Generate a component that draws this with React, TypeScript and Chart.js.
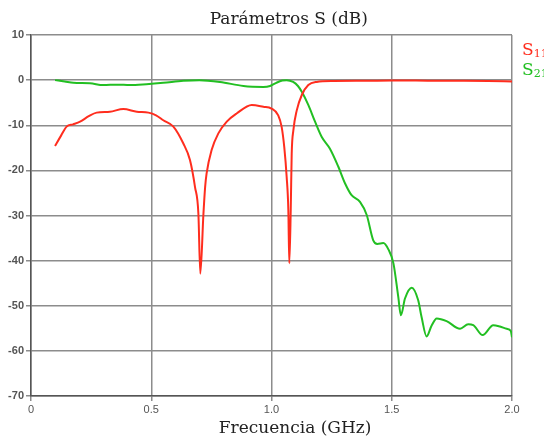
import React, { useEffect, useRef } from "react";
import { Chart, registerables } from "chart.js";

Chart.register(...registerables);

const s11Freq = [0.1, 0.125, 0.148, 0.175, 0.204, 0.24, 0.273, 0.328, 0.384, 0.44, 0.488, 0.52, 0.55, 0.592, 0.633, 0.661, 0.682, 0.696, 0.704, 0.717, 0.724, 0.73, 0.751, 0.779, 0.814, 0.855, 0.918, 0.966, 1.0, 1.028, 1.042, 1.053, 1.063, 1.07, 1.074, 1.08, 1.084, 1.091, 1.105, 1.126, 1.153, 1.188, 1.26, 1.4, 1.5, 1.6, 1.7, 1.8, 1.9, 2.0];
const s11Db = [-14.6, -12.3, -10.3, -9.8, -9.2, -8.0, -7.2, -7.0, -6.4, -7.0, -7.2, -7.8, -8.9, -10.3, -14.0, -17.7, -23.7, -29.6, -42.9, -29.6, -23.7, -20.7, -15.5, -11.8, -9.2, -7.4, -5.5, -5.9, -6.3, -7.8, -10.3, -14.8, -21.4, -28.8, -40.6, -28.8, -16.3, -11.1, -6.7, -3.3, -1.1, -0.4, -0.2, -0.15, -0.1, -0.1, -0.15, -0.15, -0.2, -0.3];

const s21Freq = [0.1, 0.14, 0.176, 0.245, 0.3, 0.36, 0.41, 0.48, 0.55, 0.633, 0.7, 0.786, 0.883, 0.966, 0.994, 1.02, 1.045, 1.063, 1.09, 1.11, 1.126, 1.153, 1.181, 1.209, 1.243, 1.278, 1.306, 1.333, 1.368, 1.396, 1.423, 1.44, 1.465, 1.486, 1.507, 1.527, 1.538, 1.555, 1.583, 1.61, 1.624, 1.645, 1.665, 1.687, 1.728, 1.784, 1.818, 1.839, 1.878, 1.922, 1.95, 1.978, 1.995, 2.0];
const s21Db = [0, -0.3, -0.6, -0.7, -1.1, -1.0, -1.1, -0.9, -0.6, -0.15, 0, -0.4, -1.3, -1.5, -1.3, -0.6, -0.1, 0, -0.4, -1.3, -2.6, -5.5, -9.2, -12.6, -15.2, -19.2, -22.9, -25.5, -27.0, -29.9, -35.5, -36.3, -36.1, -37.5, -40.6, -48.0, -52.1, -48.4, -46.0, -48.8, -52.5, -56.8, -54.5, -52.8, -53.4, -55.1, -54.1, -54.3, -56.5, -54.3, -54.6, -55.1, -55.6, -57.0];

const seriesNames = ["S11", "S21"];
const seriesSubs = ["11", "21"];
const chartTitle = "Parámetros S (dB)";
const xTitle = "Frecuencia (GHz)";

const RED = "#ff2d1e";
const GREEN = "#22bf22";

const textPlugin = {
  id: "customText",
  afterDraw(chart: any) {
    const ctx = chart.ctx;
    const area = chart.chartArea;
    ctx.save();
    ctx.fillStyle = "#222";
    ctx.textAlign = "center";
    ctx.textBaseline = "alphabetic";
    ctx.font = "17px 'DejaVu Serif'";
    ctx.fillText(chartTitle, area.left + (area.right - area.left) * 0.536, 24);
    ctx.fillText(xTitle, area.left + (area.right - area.left) * 0.549, 433);
    // legend
    const colors = [RED, GREEN];
    ctx.textAlign = "left";
    seriesSubs.forEach((sub, i) => {
      const y = 55 + i * 20;
      const x = area.right + 10;
      ctx.fillStyle = colors[i];
      ctx.font = "17px 'DejaVu Serif'";
      ctx.fillText("S", x, y);
      const w = ctx.measureText("S").width;
      ctx.font = "11px 'DejaVu Serif'";
      ctx.fillText(sub, x + w, y + 2);
    });
    ctx.restore();
  },
};

export default function App() {
  const ref = useRef<HTMLCanvasElement>(null);
  useEffect(() => {
    document.body.style.margin = "0";
    const canvas = ref.current!;
    const chart = new Chart(canvas, {
      type: "scatter",
      data: {
        datasets: [
          {
            label: seriesNames[0],
            data: s11Freq.map((f, i) => ({ x: f, y: s11Db[i] })),
            showLine: true,
            borderColor: RED,
            backgroundColor: RED,
            borderWidth: 2,
            pointRadius: 0,
            cubicInterpolationMode: "monotone",
          },
          {
            label: seriesNames[1],
            data: s21Freq.map((f, i) => ({ x: f, y: s21Db[i] })),
            showLine: true,
            borderColor: GREEN,
            backgroundColor: GREEN,
            borderWidth: 2,
            pointRadius: 0,
            cubicInterpolationMode: "monotone",
          },
        ],
      },
      options: {
        animation: false,
        responsive: false,
        layout: { padding: { top: 35, right: 32, left: 0, bottom: 0 } },
        plugins: {
          legend: { display: false },
          title: { display: false },
          tooltip: { enabled: false },
        },
        scales: {
          x: {
            type: "linear",
            min: 0,
            max: 2,
            ticks: {
              stepSize: 0.5,
              color: "#555",
              font: { family: "'Liberation Sans'", size: 11 },
              padding: 2,
              maxRotation: 0,
            },
            grid: { color: "#8c8c8c", lineWidth: 1.5, tickLength: 5 },
            border: { color: "#555", width: 1.5 },
            afterFit: (s: any) => {
              s.height = 40;
            },
          },
          y: {
            type: "linear",
            min: -70,
            max: 10,
            ticks: {
              stepSize: 10,
              color: "#555",
              font: { family: "'Liberation Sans'", size: 11, weight: "bold" },
              padding: 2,
            },
            grid: { color: "#8c8c8c", lineWidth: 1.5, tickLength: 5 },
            border: { color: "#555", width: 1.5 },
            afterFit: (s: any) => {
              s.width = 31;
            },
          },
        },
      },
      plugins: [textPlugin],
    } as any);
    return () => chart.destroy();
  }, []);
  return <canvas ref={ref} width={544} height={436} style={{ display: "block" }} />;
}
